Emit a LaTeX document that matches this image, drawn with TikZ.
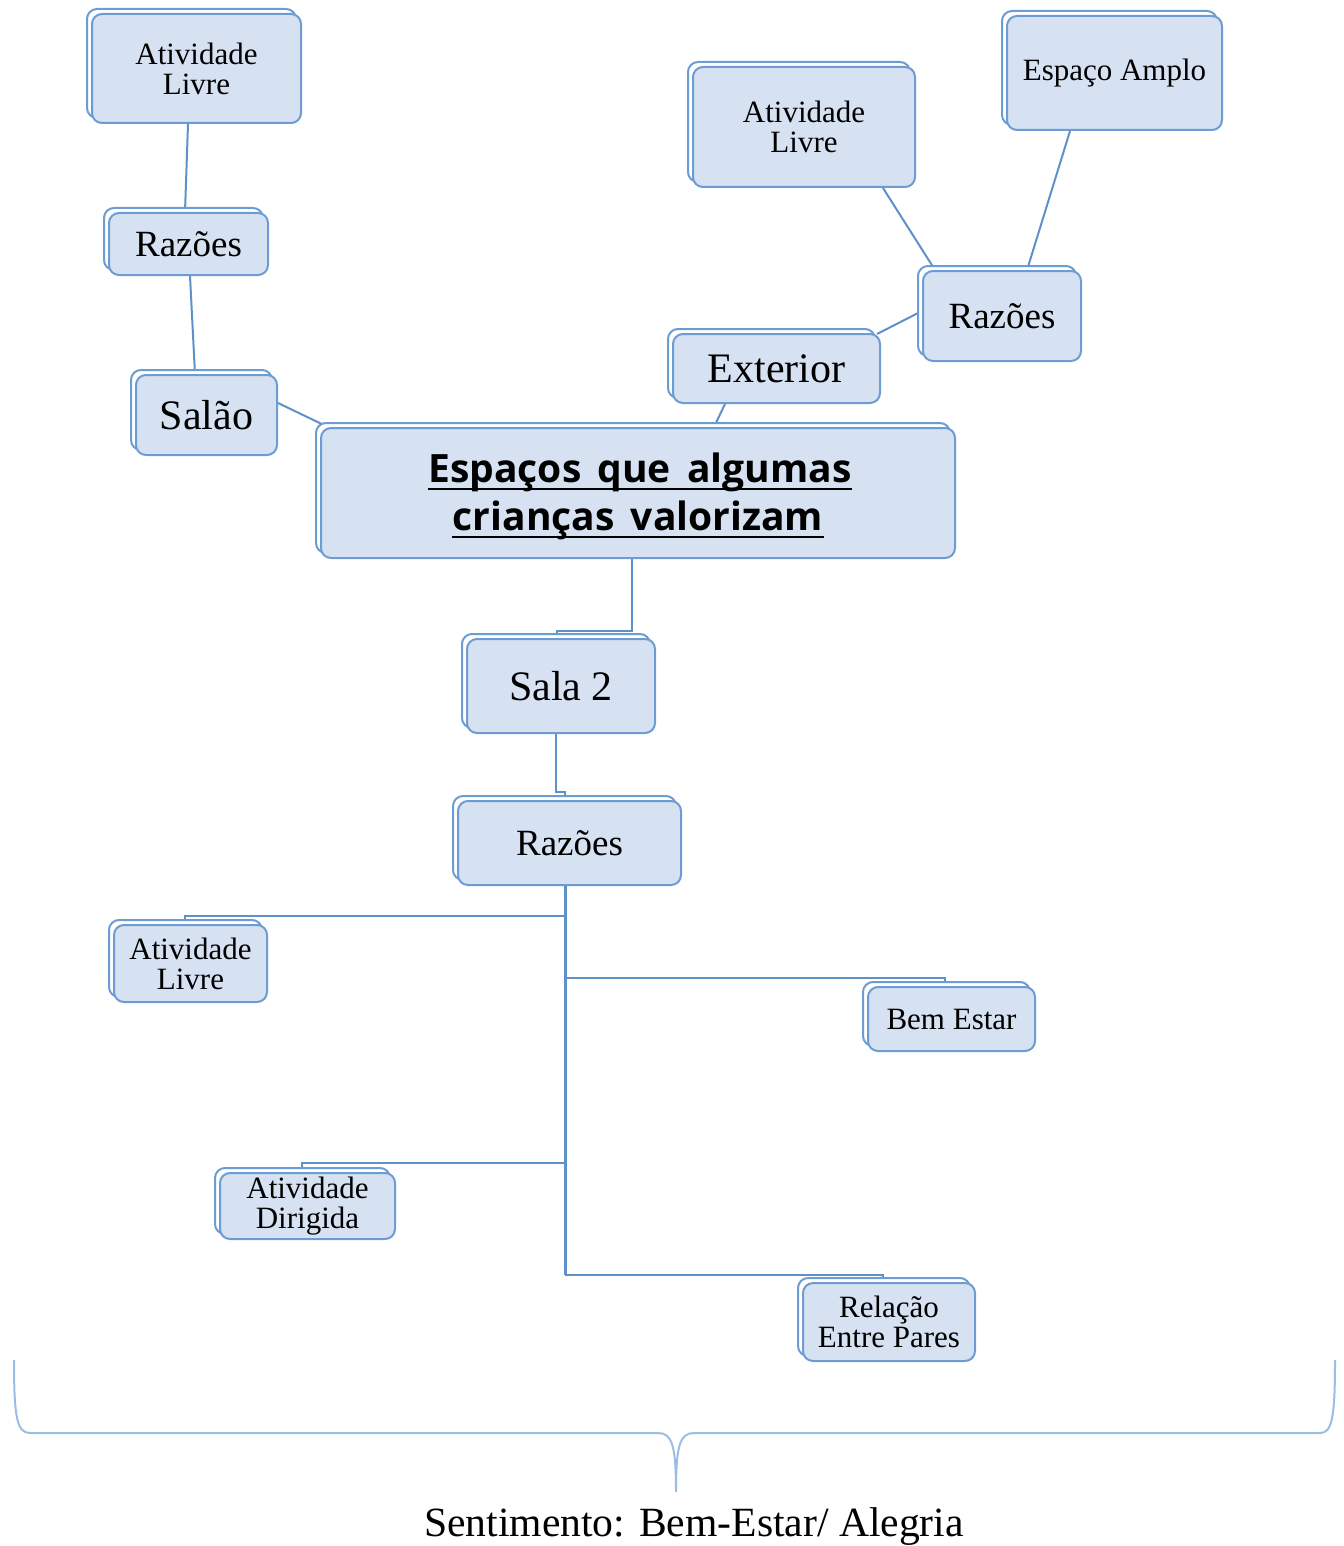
\documentclass[tikz,border=0pt]{standalone}
\usepackage{fontspec}
\setmainfont{Liberation Serif}
\newfontfamily\titlefont[WordSpace={1.6}]{Open Sans}
\usetikzlibrary{shadows,calc,backgrounds}
\definecolor{boxfill}{HTML}{D6E1F1}
\definecolor{boxline}{HTML}{6C9CD2}
\definecolor{linkcol}{HTML}{5F91C9}
\definecolor{bracecol}{HTML}{9CBDE3}
\tikzset{
  mapbox/.style={draw=boxline, fill=boxfill, line width=1pt, rounded corners=5pt,
    inner sep=0pt, align=center, text=black,
    copy shadow={fill=white, draw=boxline, line width=1pt, opacity=1,
      shadow xshift=-2.5pt, shadow yshift=2.5pt}},
  small/.style={font=\fontsize{15.5}{15}\selectfont},
  medium/.style={font=\fontsize{18.5}{20}\selectfont},
  large/.style={font=\fontsize{21}{22}\selectfont},
  titletext/.style={font=\titlefont\bfseries\fontsize{19.5}{24}\selectfont, inner sep=0pt, anchor=base},
  uline/.style={draw=black, line width=1.4pt},
  link/.style={draw=linkcol, line width=1pt},
  trunk/.style={draw=linkcol, line width=1.5pt},
}
\begin{document}
\begin{tikzpicture}[x=0.5pt,y=-0.5pt]
\useasboundingbox (0,0) rectangle (1343,1546);
% nodes (front boxes, centres and sizes in px)
\node[mapbox,small,minimum width=104.5pt,minimum height=54.5pt] (al1) at (196.5,68.5) {Atividade\\Livre};
\node[mapbox,medium,minimum width=79.5pt,minimum height=31pt] (raz1) at (188.5,244) {Razões};
\node[mapbox,large,minimum width=70.5pt,minimum height=40pt] (salao) at (206.5,415) {Salão};
\node[mapbox,minimum width=317pt,minimum height=65pt] (center) at (638,493) {};
\node[titletext] (t1) at (640,482) {Espaços que algumas};
\node[titletext] (t2) at (638,530) {crianças valorizam};
\draw[uline] ($(t1.base west)+(0,7)$) -- ($(t1.base east)+(0,7)$);
\draw[uline] ($(t2.base west)+(0,7)$) -- ($(t2.base east)+(0,7)$);
\node[mapbox,large,minimum width=103.5pt,minimum height=34.5pt] (ext) at (776.5,368.5) {Exterior};
\node[mapbox,medium,minimum width=79pt,minimum height=45pt] (raz2) at (1002,316) {Razões};
\node[mapbox,small,minimum width=111pt,minimum height=60pt] (al2) at (804,127) {Atividade\\Livre};
\node[mapbox,small,minimum width=107.5pt,minimum height=57pt] (esp) at (1114.5,73) {Espaço Amplo};
\node[mapbox,large,minimum width=94pt,minimum height=47pt] (sala) at (561,686) {Sala 2};
\node[mapbox,medium,minimum width=111.5pt,minimum height=42pt] (raz3) at (569.5,843) {Razões};
\node[mapbox,small,minimum width=76.5pt,minimum height=38.5pt] (al3) at (190.5,963.5) {Atividade\\Livre};
\node[mapbox,small,minimum width=83.5pt,minimum height=32pt] (bem) at (951.5,1019) {Bem Estar};
\node[mapbox,small,minimum width=87.5pt,minimum height=33pt] (ad) at (307.5,1206) {Atividade\\Dirigida};
\node[mapbox,small,minimum width=86pt,minimum height=39pt] (rel) at (889,1322) {Relação\\Entre Pares};
% bottom label
\node[font=\fontsize{20.8}{22}\selectfont] (sent) at (694,1527) {Sentimento: Bem-Estar/ Alegria};
% connectors
\begin{scope}[on background layer]
\draw[link] ($(al1.south)+(-8.5,0)$) -- ($(raz1.north)+(-3.5,0)$);
\draw[link] ($(raz1.south)+(1.5,0)$) -- ($(salao.north)+(-11.5,0)$);
\draw[link] ($(salao.east)+(0,-12)$) -- ($(center.north west)+(8,0)$);
\draw[link] ($(ext.south)+(-51.5,0)$) -- ($(center.north)+(76,0)$);
\draw[link] ($(ext.north east)+(-4,1)$) -- ($(raz2.west)+(0,-5)$);
\draw[link] ($(raz2.north)+(-67,0)$) -- ($(al2.south)+(79,0)$);
\draw[link] ($(raz2.north)+(25,0)$) -- ($(esp.south)+(-44.5,0)$);
\draw[link] ($(center.south)+(-6,0)$) |- ($(sala.north)+(-4,-7)$) -- ($(sala.north)+(-4,0)$);
\draw[link] ($(sala.south)+(-5,0)$) |- ($(raz3.north)+(-4.5,-8)$) -- ($(raz3.north)+(-4.5,0)$);
\coordinate (tr) at ($(raz3.south)+(-4.5,0)$);
\draw[trunk] (tr) -- (tr |- 0,1275);
\draw[link] (tr |- 0,916) -| ($(al3.north)+(-5.5,0)$);
\draw[link] (tr |- 0,978) -| ($(bem.north)+(-6.5,0)$);
\draw[link] (tr |- 0,1163) -| ($(ad.north)+(-5.5,0)$);
\draw[link] (tr |- 0,1275) -| ($(rel.north)+(-6,0)$);
\end{scope}
% brace
\draw[draw=bracecol, line width=1pt]
  (14,1360) .. controls (14,1418) and (17,1433) .. (30,1433) -- (658,1433)
  .. controls (672,1433) and (676,1445) .. (676,1492)
  .. controls (676,1445) and (680,1433) .. (694,1433) -- (1320,1433)
  .. controls (1332,1433) and (1335,1418) .. (1335,1360);
\end{tikzpicture}
\end{document}
